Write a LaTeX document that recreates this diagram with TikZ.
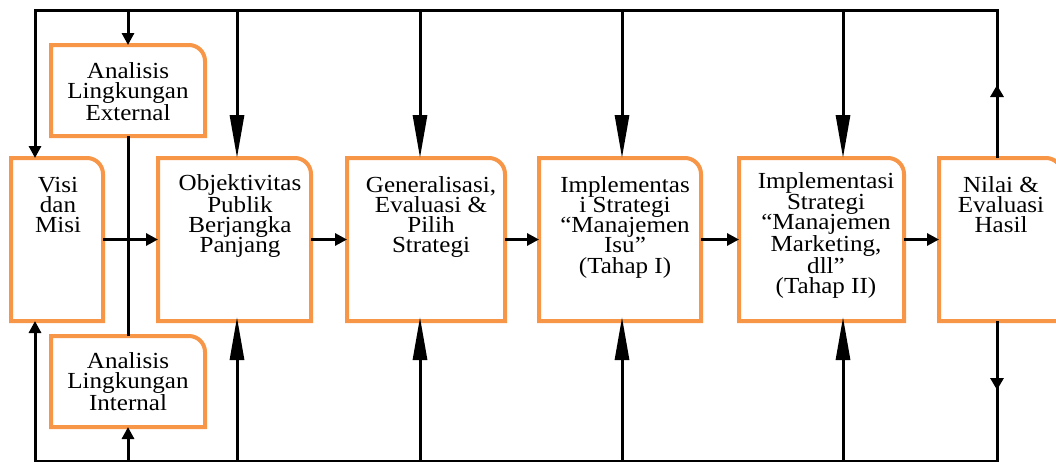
\documentclass[tikz,border=0pt]{standalone}
\usepackage{fontspec}
\setmainfont{Liberation Serif}[FakeStretch=1.09]
\usetikzlibrary{arrows.meta,decorations.markings,calc}
\definecolor{boxorange}{RGB}{247,150,70}
\newcommand\orangeoutline[1]{%
  \draw[orbox] (#1.south west) -- (#1.north west) -- ($(#1.north east)+(-16,0)$)
    .. controls ($(#1.north east)+(-7.2,0)$) and ($(#1.north east)+(0,7.2)$) .. ($(#1.north east)+(0,16)$)
    -- (#1.south east) -- cycle;}
\begin{document}
\begin{tikzpicture}[x=1pt,y=-1pt,
  area/.style={draw=none, inner sep=0pt, outer sep=0pt, minimum width=#1},
  orbox/.style={draw=boxorange, line width=4pt, line join=miter},
  txt/.style={font=\fontsize{23}{20.3}\selectfont, align=center, inner sep=0pt, anchor=base},
  conn/.style={draw=black, line width=3pt},
  sarrow/.style={conn, -{Triangle[length=12pt,width=12pt]}},
  barrow/.style={conn, -{Triangle[length=43pt,width=14pt]}}]
\clip (0,0) rectangle (1056,461);
% boxes (geometry only)
\node[area=92pt, minimum height=163pt] (visi) at (57,239.5) {};
\node[area=154pt, minimum height=91pt] (ext) at (128,90.5) {};
\node[area=154pt, minimum height=91pt] (int) at (128,381.5) {};
\node[area=153pt, minimum height=163pt] (obj) at (234.5,239.5) {};
\node[area=158pt, minimum height=163pt] (gen) at (426,239.5) {};
\node[area=162pt, minimum height=163pt] (imp1) at (620,239.5) {};
\node[area=165pt, minimum height=163pt] (imp2) at (821.5,239.5) {};
\node[area=123pt, minimum height=163pt] (nilai) at (1000.5,239.5) {};
\foreach \b in {visi,ext,int,obj,gen,imp1,imp2,nilai} {\orangeoutline{\b}}
% texts (anchor = baseline of last line)
\node[txt] (visiT) at (58,232.6) {Visi\\dan\\Misi};
\node[txt] (extT) at (128,120.6) {Analisis\\Lingkungan\\External};
\node[txt] (intT) at (128,410.6) {Analisis\\Lingkungan\\Internal};
\node[txt] (objT) at (240,252.9) {Objektivitas\\Publik\\Berjangka\\Panjang};
\node[txt] (genT) at (431,252.9) {Generalisasi,\\Evaluasi \&\\Pilih\\Strategi};
\node[txt] (imp1T) at (625,273.2) {Implementas\\i Strategi\\“Manajemen\\Isu”\\(Tahap I)};
\node[txt] (imp2T) at (826,293.5) {Implementasi\\Strategi\\“Manajemen\\Marketing,\\dll”\\(Tahap II)};
\node[txt] (nilaiT) at (1001,232.6) {Nilai \&\\Evaluasi\\Hasil};
% frame coordinates
\coordinate (tl) at (35,10);
\coordinate (tr) at (997,10);
\coordinate (bl) at (35,461);
\coordinate (br) at (997,461);
\coordinate (t1) at (128,10);
\coordinate (t2) at (237,10);
\coordinate (t3) at (420,10);
\coordinate (t4) at (622,10);
\coordinate (t5) at (843,10);
\coordinate (b1) at (128,461);
\coordinate (b2) at (237,461);
\coordinate (b3) at (420,461);
\coordinate (b4) at (622,461);
\coordinate (b5) at (843,461);
% top loop
\draw[sarrow, postaction={decorate}, decoration={markings, mark=at position 73pt with {\arrow{Triangle[length=12pt,width=13pt]}}}]
  (nilai.north -| tr) -- (tr) -- (tl) -- (tl |- visi.north);
% bottom loop
\draw[sarrow, postaction={decorate}, decoration={markings, mark=at position 69pt with {\arrow{Triangle[length=12pt,width=13pt]}}}]
  (nilai.south -| br) -- (br) -- (bl) -- (bl |- visi.south);
% down arrows
\draw[sarrow] (t1) -- (ext.north);
\draw[barrow] (t2) -- (t2 |- obj.north);
\draw[barrow] (t3) -- (t3 |- gen.north);
\draw[barrow] (t4) -- (t4 |- imp1.north);
\draw[barrow] (t5) -- (t5 |- imp2.north);
% up arrows
\draw[sarrow] (b1) -- (int.south);
\draw[barrow] (b2) -- ([yshift=4pt]b2 |- obj.south);
\draw[barrow] (b3) -- ([yshift=4pt]b3 |- gen.south);
\draw[barrow] (b4) -- ([yshift=4pt]b4 |- imp1.south);
\draw[barrow] (b5) -- ([yshift=4pt]b5 |- imp2.south);
% link between environment analyses
\draw[conn] (ext.south) -- (int.north);
% main flow
\draw[sarrow] (visi.east) -- (obj.west);
\draw[sarrow] (obj.east) -- (gen.west);
\draw[sarrow] (gen.east) -- (imp1.west);
\draw[sarrow] (imp1.east) -- (imp2.west);
\draw[sarrow] (imp2.east) -- (nilai.west);
\end{tikzpicture}
\end{document}
